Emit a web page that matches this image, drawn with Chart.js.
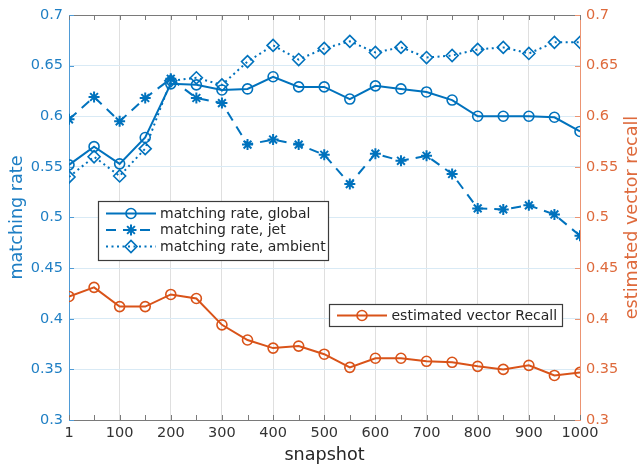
<!DOCTYPE html>
<html>
<head>
<meta charset="utf-8">
<script src="https://cdn.jsdelivr.net/npm/chart.js@4/dist/chart.umd.min.js"></script>
<style>
  html, body { margin: 0; padding: 0; background: #ffffff; }
  #wrap { width: 643px; height: 466px; }
</style>
</head>
<body>
<div id="wrap"><canvas id="c" width="643" height="466"></canvas></div>
<script>
// Snapshot indices on the x axis
const snapshots = [1, 50, 100, 150, 200, 250, 300, 350, 400, 450, 500,
                   550, 600, 650, 700, 750, 800, 850, 900, 950, 1000];
// Labelled x ticks
const xTickLabels = [1, 100, 200, 300, 400, 500, 600, 700, 800, 900, 1000];
// y ticks (shared by both y axes)
const yTicks = [0.3, 0.35, 0.4, 0.45, 0.5, 0.55, 0.6, 0.65, 0.7];

// Matching rate series (left axis)
const globalRate  = [0.552, 0.570, 0.553, 0.579, 0.632, 0.631, 0.626, 0.627, 0.639, 0.629, 0.629,
                     0.617, 0.630, 0.627, 0.624, 0.616, 0.600, 0.600, 0.600, 0.599, 0.585];
const jetRate     = [0.597, 0.619, 0.595, 0.618, 0.637, 0.618, 0.613, 0.572, 0.577, 0.572, 0.562,
                     0.533, 0.563, 0.556, 0.561, 0.543, 0.509, 0.508, 0.512, 0.503, 0.482];
const ambientRate = [0.540, 0.560, 0.541, 0.568, 0.635, 0.638, 0.631, 0.654, 0.670, 0.656, 0.667,
                     0.674, 0.663, 0.668, 0.658, 0.660, 0.666, 0.668, 0.662, 0.673, 0.673];
// Estimated vector recall (right axis)
const recall      = [0.422, 0.431, 0.412, 0.412, 0.424, 0.420, 0.394, 0.379, 0.371, 0.373, 0.365,
                     0.352, 0.361, 0.361, 0.358, 0.357, 0.353, 0.350, 0.354, 0.344, 0.347];

const BLUE = '#0072BD';
const ORANGE = '#D95319';
const FONT = '"DejaVu Sans", sans-serif';

const pts = (ys) => snapshots.map((x, i) => ({ x: x, y: ys[i] }));

const datasets = [
  { label: 'matching rate, global', data: pts(globalRate), yAxisID: 'y',
    borderColor: BLUE, borderWidth: 2, borderDash: [],
    pointStyle: 'circle', pointRadius: 5, pointBorderWidth: 1.6 },
  { label: 'matching rate, jet', data: pts(jetRate), yAxisID: 'y',
    borderColor: BLUE, borderWidth: 2, borderDash: [10, 7],
    pointStyle: 'star', pointRadius: 5.5, pointBorderWidth: 2 },
  { label: 'matching rate, ambient', data: pts(ambientRate), yAxisID: 'y',
    borderColor: BLUE, borderWidth: 2, borderDash: [2, 3.5],
    pointStyle: 'rectRot', pointRadius: 6, pointBorderWidth: 1.6 },
  { label: 'estimated vector Recall', data: pts(recall), yAxisID: 'y2',
    borderColor: ORANGE, borderWidth: 2, borderDash: [],
    pointStyle: 'circle', pointRadius: 5, pointBorderWidth: 1.6 }
];
datasets.forEach(d => {
  d.pointBorderColor = d.borderColor;
  d.pointBackgroundColor = 'rgba(0,0,0,0)';
  d.pointHoverRadius = d.pointRadius;
  d.tension = 0;
  d.fill = false;
});

// Marker drawing shared by the legend boxes
function marker(ctx, ds, x, y) {
  ctx.save();
  ctx.strokeStyle = ds.borderColor;
  ctx.fillStyle = 'rgba(0,0,0,0)';
  ctx.lineWidth = ds.pointBorderWidth;
  ctx.setLineDash([]);
  Chart.helpers.drawPoint(ctx, { pointStyle: ds.pointStyle, rotation: 0,
    radius: ds.pointRadius, borderWidth: ds.pointBorderWidth }, x, y);
  ctx.restore();
}

function legendBox(ctx, box, entries) {
  ctx.save();
  ctx.fillStyle = '#ffffff';
  ctx.fillRect(box.x, box.y, box.w, box.h);
  ctx.strokeStyle = '#3c3c3c';
  ctx.lineWidth = 1.2;
  ctx.strokeRect(box.x, box.y, box.w, box.h);
  ctx.font = '14px ' + FONT;
  ctx.textBaseline = 'middle';
  ctx.textAlign = 'left';
  entries.forEach(e => {
    const ds = e.ds;
    ctx.save();
    ctx.strokeStyle = ds.borderColor;
    ctx.lineWidth = ds.borderWidth;
    ctx.setLineDash(ds.borderDash || []);
    ctx.beginPath();
    ctx.moveTo(e.x0, e.y);
    ctx.lineTo(e.x1, e.y);
    ctx.stroke();
    ctx.restore();
    marker(ctx, ds, (e.x0 + e.x1) / 2, e.y);
    ctx.fillStyle = '#262626';
    ctx.fillText(ds.label, e.tx, e.y + 0.5);
  });
  ctx.restore();
}

const decorations = {
  id: 'decorations',
  beforeDatasetsDraw(chart) {
    const { ctx, chartArea: a, scales } = chart;
    ctx.save();
    // top frame line
    ctx.strokeStyle = '#7a7a7a';
    ctx.lineWidth = 1;
    ctx.beginPath();
    ctx.moveTo(a.left, a.top + 0.5);
    ctx.lineTo(a.right, a.top + 0.5);
    ctx.stroke();
    // inward tick marks on the x axis (bottom and top)
    const tl = 5;
    ctx.beginPath();
    snapshots.forEach(v => {
      const px = Math.round(scales.x.getPixelForValue(v)) + 0.5;
      ctx.moveTo(px, a.bottom);
      ctx.lineTo(px, a.bottom - tl);
      ctx.moveTo(px, a.top);
      ctx.lineTo(px, a.top + tl);
    });
    ctx.stroke();
    // inward tick marks on both y axes
    ctx.strokeStyle = '#4f9bd6';
    ctx.beginPath();
    yTicks.forEach(v => {
      const py = Math.round(scales.y.getPixelForValue(v)) + 0.5;
      ctx.moveTo(a.left, py);
      ctx.lineTo(a.left + tl, py);
    });
    ctx.stroke();
    ctx.strokeStyle = '#ec9472';
    ctx.beginPath();
    yTicks.forEach(v => {
      const py = Math.round(scales.y2.getPixelForValue(v)) + 0.5;
      ctx.moveTo(a.right, py);
      ctx.lineTo(a.right - tl, py);
    });
    ctx.stroke();
    ctx.restore();
  },
  afterDraw(chart) {
    const { ctx, chartArea: a } = chart;
    const ds = chart.data.datasets;
    ctx.save();
    // axis titles
    ctx.font = '17.6px ' + FONT;
    ctx.textAlign = 'center';
    ctx.textBaseline = 'middle';
    ctx.fillStyle = '#262626';
    ctx.fillText('snapshot', (a.left + a.right) / 2, 455);
    const midY = (a.top + a.bottom) / 2;
    ctx.save();
    ctx.translate(17, midY);
    ctx.rotate(-Math.PI / 2);
    ctx.fillStyle = '#1f7fc4';
    ctx.fillText('matching rate', 0, 0);
    ctx.restore();
    ctx.save();
    ctx.translate(632, midY);
    ctx.rotate(-Math.PI / 2);
    ctx.fillStyle = '#de6a3c';
    ctx.fillText('estimated vector recall', 0, 0);
    ctx.restore();
    ctx.restore();

    // legend for the matching rate series
    legendBox(ctx, { x: 98.5, y: 201.5, w: 230, h: 59 }, [
      { ds: ds[0], x0: 106, x1: 156, y: 213.5, tx: 160 },
      { ds: ds[1], x0: 106, x1: 156, y: 230, tx: 160 },
      { ds: ds[2], x0: 106, x1: 156, y: 246.5, tx: 160 }
    ]);
    // legend for the recall series
    legendBox(ctx, { x: 329.5, y: 304.5, w: 233, h: 22 }, [
      { ds: ds[3], x0: 337, x1: 387, y: 315.5, tx: 391.5 }
    ]);
  }
};

new Chart(document.getElementById('c'), {
  type: 'line',
  data: { datasets: datasets },
  plugins: [decorations],
  options: {
    responsive: false,
    devicePixelRatio: 1,
    animation: false,
    events: [],
    layout: { padding: { top: 15, left: 0, right: 0, bottom: 0 } },
    plugins: { legend: { display: false }, tooltip: { enabled: false } },
    scales: {
      x: {
        type: 'linear', min: 1, max: 1000,
        afterBuildTicks: (s) => { s.ticks = snapshots.map(v => ({ value: v })); },
        afterFit: (s) => { s.height = 46; },
        ticks: {
          autoSkip: false, maxRotation: 0, minRotation: 0, padding: 5,
          color: '#333333', font: { family: FONT, size: 14.5 },
          callback: (v) => xTickLabels.includes(v) ? String(v) : ''
        },
        grid: {
          drawTicks: false,
          color: (c) => (c.tick && c.tick.value % 100 === 0 && c.tick.value !== 1000) ? '#dfdfdf' : 'rgba(0,0,0,0)',
          lineWidth: 1
        },
        border: { display: true, color: '#7a7a7a', width: 1 }
      },
      y: {
        type: 'linear', position: 'left', min: 0.3, max: 0.7,
        afterBuildTicks: (s) => { s.ticks = yTicks.map(v => ({ value: v })); },
        afterFit: (s) => { s.width = 69; },
        ticks: {
          padding: 6, color: '#1f7fc4', font: { family: FONT, size: 14.5 },
          callback: (v) => String(v)
        },
        grid: {
          drawTicks: false,
          color: (c) => (c.tick && c.tick.value > 0.31 && c.tick.value < 0.69) ? '#d9eaf5' : 'rgba(0,0,0,0)'
        },
        border: { display: true, color: '#4f9bd6', width: 1 }
      },
      y2: {
        type: 'linear', position: 'right', min: 0.3, max: 0.7,
        afterBuildTicks: (s) => { s.ticks = yTicks.map(v => ({ value: v })); },
        afterFit: (s) => { s.width = 63; },
        ticks: {
          padding: 6, color: '#de6a3c', font: { family: FONT, size: 14.5 },
          callback: (v) => String(v)
        },
        grid: { display: false, drawTicks: false },
        border: { display: true, color: '#ec9472', width: 1 }
      }
    }
  }
});
</script>
</body>
</html>
